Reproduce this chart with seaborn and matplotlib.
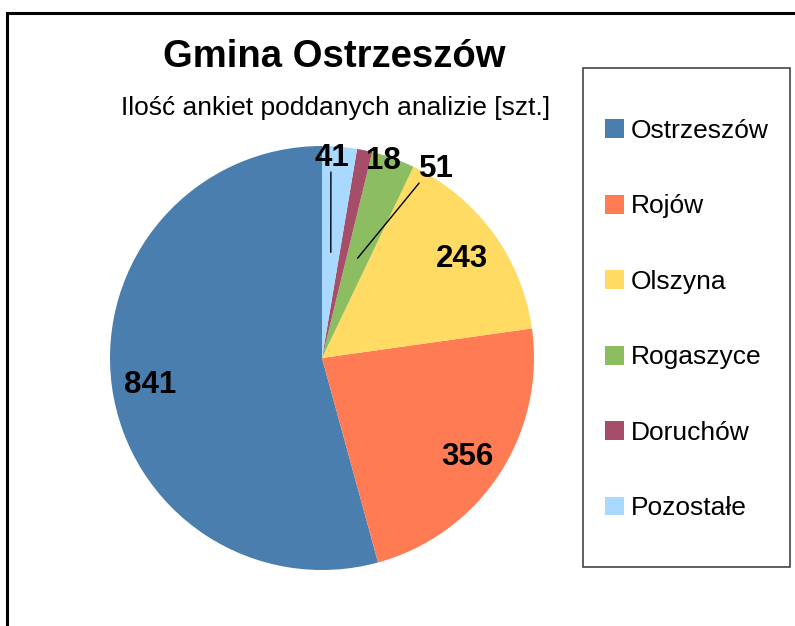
import numpy as np
import matplotlib.pyplot as plt
import matplotlib.patches as mpatches
import seaborn as sns

# data
categories = ['Ostrzeszów', 'Rojów', 'Olszyna', 'Rogaszyce', 'Doruchów', 'Pozostałe']
counts = [841, 356, 243, 51, 18, 41]
colors = ['#4a7eae', '#ff7b53', '#ffdb63', '#8cbd60', '#a64d69', '#aad9ff']

title = 'Gmina Ostrzeszów'
subtitle = 'Ilość ankiet poddanych analizie [szt.]'

sns.set_theme(style='white')
plt.rcParams['font.family'] = ['Liberation Sans', 'DejaVu Sans']
plt.rcParams['text.color'] = 'black'

W, H = 795, 626
fig = plt.figure(figsize=(W / 100, H / 100), dpi=100)
fig.patch.set_facecolor('white')


def fx(px):
    return px / W


def fy(py):
    return 1 - py / H


# outer chart frame (cut by the image edges on right and bottom)
fig.patches.append(mpatches.Rectangle((fx(7), fy(640)), fx(800), fy(13) - fy(640),
                                      transform=fig.transFigure, fill=False,
                                      edgecolor='black', linewidth=2.2))

# pie area: center (322, 358), radius 212 px
cx, cy, r = 322, 358, 212
ax = fig.add_axes([fx(cx - r), fy(cy + r), fx(2 * r), (2 * r) / H])
wedges, _ = ax.pie(counts, colors=colors, startangle=90, counterclock=True,
                   radius=1.0, wedgeprops=dict(linewidth=0))
ax.set_xlim(-1, 1)
ax.set_ylim(-1, 1)
ax.set_aspect('equal')
ax.axis('off')

# label placement per wedge: radius along mid angle, or explicit offsets
label_style = dict(fontsize=22.5, fontweight='bold', color='black',
                   ha='center', va='center_baseline')
label_pos = {
    'Doruchów': (0.288, 0.948),
    'Rogaszyce': (0.542, 0.906),
    'Pozostałe': (0.047, 0.96),
}
leader_start = {
    'Rogaszyce': (0.458, 0.825),
    'Pozostałe': (0.042, 0.877),
}
for w, name, val in zip(wedges, categories, counts):
    mid = np.deg2rad((w.theta1 + w.theta2) / 2)
    if name in label_pos:
        tx, ty = label_pos[name]
    else:
        tx, ty = 0.82 * np.cos(mid), 0.82 * np.sin(mid)
    ax.text(tx, ty, str(val), **label_style)
    if name in leader_start:
        sx, sy = leader_start[name]
        ax.plot([sx, 0.5 * np.cos(mid)], [sy, 0.5 * np.sin(mid)],
                color='black', linewidth=1.0)

# titles
fig.text(fx(334), fy(57), title, fontsize=27.5, fontweight='bold',
         ha='center', va='center', color='black')
fig.text(fx(336), fy(108), subtitle, fontsize=19,
         ha='center', va='center', color='black')

# legend box
fig.patches.append(mpatches.Rectangle((fx(583), fy(567)), fx(790) - fx(583),
                                      fy(68) - fy(567), transform=fig.transFigure,
                                      fill=False, edgecolor='#444444', linewidth=1.2))
handles = [mpatches.Patch(facecolor=c, edgecolor='none') for c in colors]
fig.legend(handles, categories, loc='upper left',
           bbox_to_anchor=(fx(605), fy(119)), frameon=False,
           fontsize=19, handlelength=0.72, handleheight=0.72,
           handletextpad=0.25, labelspacing=1.95, borderpad=0,
           borderaxespad=0)

plt.savefig('out.png', dpi=100, facecolor='white')
